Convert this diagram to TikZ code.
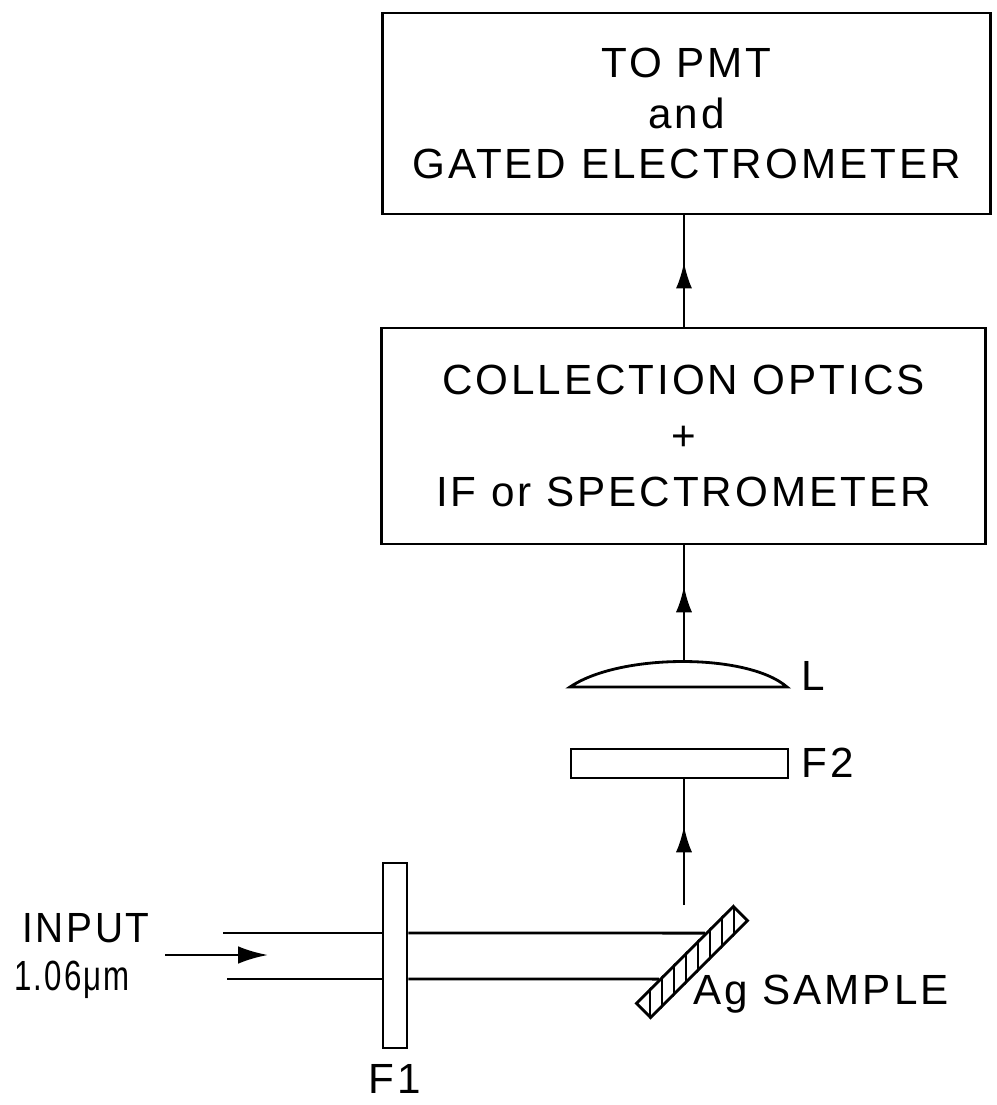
\documentclass[tikz,border=0pt]{standalone}
\usepackage{fontspec}
\usetikzlibrary{arrows.meta,decorations.markings}
\newfontfamily\lettering[LetterSpace=7]{Liberation Sans}

\begin{document}
\begin{tikzpicture}[x=0.01cm, y=-0.01cm, line width=0.8pt,
    instbox/.style={draw, rectangle, align=center, inner sep=0pt},
    optic/.style={draw, rectangle, inner sep=0pt},
    lbl/.style={font=\lettering\fontsize{12}{14.4}\selectfont, inner sep=0pt},
    tip/.style={-{Latex[length=8.5pt,width=5pt]}},
    midarrow/.style={postaction={decorate}, decoration={markings,
        mark=at position #1 with {\arrow{Latex[length=7.5pt,width=4.6pt]}}}}]
    \useasboundingbox (0,0) rectangle (996,1105);

    % 箱を描画
    \node[instbox, minimum width=6.07cm, minimum height=2.01cm,
        font=\lettering\fontsize{12}{14.4}\selectfont] (pmt) at (686.5,113.5)
        {TO PMT\\and\\GATED ELECTROMETER};
    \node[instbox, minimum width=6.03cm, minimum height=2.16cm,
        font=\lettering\fontsize{12}{16}\selectfont] (optics) at (683.5,436)
        {COLLECTION OPTICS\\+\\IF or SPECTROMETER};

    % 光学素子
    \coordinate (axis) at (684,0);
    \coordinate (lens) at (684,661);
    \draw (570,687) .. controls (620,653) and (748,653) .. (787,687) -- cycle;
    \node[optic, minimum width=2.17cm, minimum height=0.29cm] (f2) at (679.5,763.5) {};
    \node[optic, minimum width=0.24cm, minimum height=1.85cm] (f1) at (395,955.5) {};
    \node[optic, rotate=45, minimum width=1.37cm, minimum height=0.2cm] (sample) at (692,962) {};
    \begin{scope}
        \clip (sample.north west) -- (sample.north east) -- (sample.south east) -- (sample.south west) -- cycle;
        \foreach \hx in {650,662,...,734}
            \draw[line width=0.4pt] (\hx,880) -- (\hx,1040);
    \end{scope}

    % ラベル
    \node[lbl, anchor=base west] (llabel) at (800,690) {L};
    \node[lbl, anchor=base west] (f2label) at (800,777) {F2};
    \node[lbl, anchor=base] (f1label) at (395,1093) {F1};
    \node[lbl, anchor=base west] (aglabel) at (692,1004) {Ag SAMPLE};
    \node[lbl, anchor=base west, xscale=0.92] (inlabel) at (21,942) {INPUT};
    \node[lbl, anchor=base west, xscale=0.74] (wavelabel) at (13,990) {1.06μm};

    % ビーム
    \coordinate (ua) at (223,933);
    \coordinate (la) at (227,979);
    \coordinate (ub) at (ua -| f1.east);
    \coordinate (lb) at (la -| f1.east);
    \coordinate (instart) at (165,955);
    \coordinate (inend) at (268,955);
    \coordinate (refl) at (684,905);
    \draw[tip] (instart) -- (inend);
    \draw (ua) -- (ua -| f1.west);
    \draw (la) -- (la -| f1.west);
    \draw (ub) -- (intersection of sample.north west--sample.north east and ua--ub);
    \draw (lb) -- (intersection of sample.north west--sample.north east and la--lb);

    % 矢印
    \draw[midarrow=0.63] (refl) -- (f2.south -| refl);
    \draw[midarrow=0.65] (lens) -- (optics.south -| lens);
    \draw[midarrow=0.58] (optics.north -| axis) -- (pmt.south -| axis);
\end{tikzpicture}
\end{document}
